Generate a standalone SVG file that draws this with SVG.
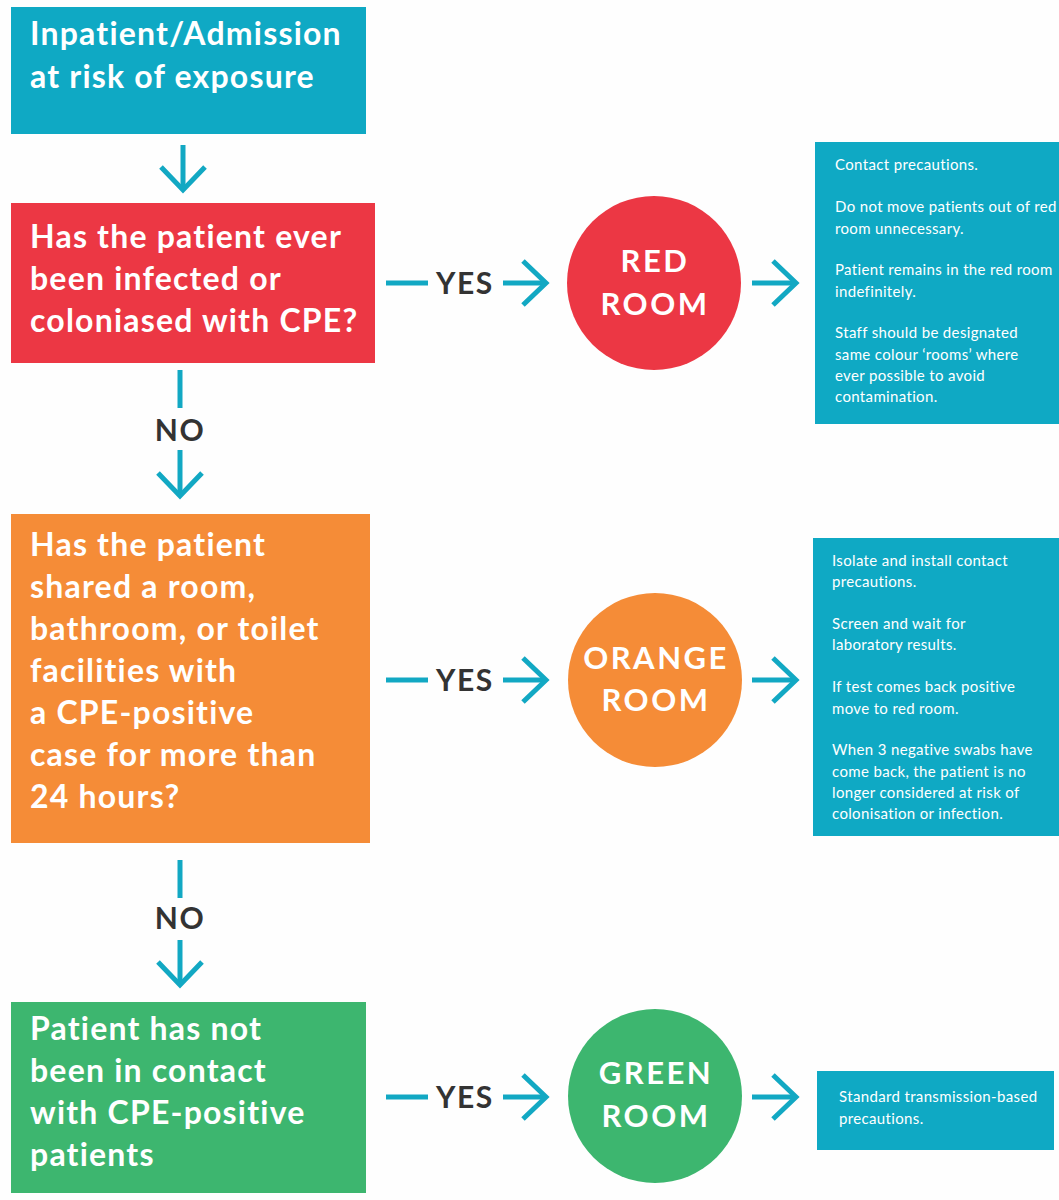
<svg xmlns="http://www.w3.org/2000/svg" width="1059" height="1200" viewBox="0 0 1059 1200">
<style>
.bg{fill:#fefefe}
.main{font-family:Lato,"Noto Sans",sans-serif;font-weight:700;font-size:32px;letter-spacing:1.2px;fill:#ffffff}
.room{font-family:Lato,"Noto Sans",sans-serif;font-weight:700;font-size:31px;fill:#ffffff;text-anchor:middle;letter-spacing:2.5px}
.lbl{font-family:Lato,"Noto Sans",sans-serif;font-weight:700;font-size:30px;letter-spacing:1.5px;fill:#333333}
.info{font-family:Lato,"Noto Sans",sans-serif;font-weight:400;font-size:15px;letter-spacing:0.35px;fill:#ffffff}
.con{stroke:#12a8c3;stroke-width:5;fill:none}
.teal{fill:#0fa9c4}
.red{fill:#ec3744}
.orange{fill:#f58c37}
.green{fill:#3db66f}
</style>
<defs>
<marker id="chev" markerUnits="userSpaceOnUse" markerWidth="34" markerHeight="54" viewBox="-28 -27 34 54" refX="0" refY="0" orient="auto">
<path d="M-23,-22 L0,0 L-23,22" stroke="#12a8c3" stroke-width="5" fill="none"/>
</marker>
</defs>
<rect class="bg" x="0" y="0" width="1059" height="1200"/>

<g id="start">
<rect class="teal" x="11" y="7" width="355" height="127"/>
<text class="main" x="30" y="45">Inpatient/Admission</text>
<text class="main" x="30" y="88">at risk of exposure</text>
</g>

<g id="q1">
<rect class="red" x="11" y="203" width="364" height="160"/>
<text class="main" x="30" y="248">Has the patient ever</text>
<text class="main" x="30" y="290">been infected or</text>
<text class="main" x="30" y="332">coloniased with CPE?</text>
</g>

<g id="red-room">
<circle class="red" cx="654" cy="283" r="87"/>
<text class="room" x="655" y="272">RED</text>
<text class="room" x="655" y="315">ROOM</text>
</g>

<g id="red-info">
<rect class="teal" x="815" y="142" width="244" height="282"/>
<text class="info" x="835" y="170">Contact precautions.</text>
<text class="info" x="835" y="212">Do not move patients out of red</text>
<text class="info" x="835" y="234">room unnecessary.</text>
<text class="info" x="835" y="275">Patient remains in the red room</text>
<text class="info" x="835" y="297">indefinitely.</text>
<text class="info" x="835" y="338">Staff should be designated</text>
<text class="info" x="835" y="360">same colour ‘rooms’ where</text>
<text class="info" x="835" y="381">ever possible to avoid</text>
<text class="info" x="835" y="402">contamination.</text>
</g>

<g id="q2">
<rect class="orange" x="11" y="514" width="359" height="329"/>
<text class="main" x="30" y="556">Has the patient</text>
<text class="main" x="30" y="598">shared a room,</text>
<text class="main" x="30" y="640">bathroom, or toilet</text>
<text class="main" x="30" y="682">facilities with</text>
<text class="main" x="30" y="724">a CPE-positive</text>
<text class="main" x="30" y="766">case for more than</text>
<text class="main" x="30" y="808">24 hours?</text>
</g>

<g id="orange-room">
<circle class="orange" cx="655" cy="680" r="87"/>
<text class="room" x="656" y="669">ORANGE</text>
<text class="room" x="656" y="711">ROOM</text>
</g>

<g id="orange-info">
<rect class="teal" x="813" y="538" width="246" height="298"/>
<text class="info" x="832" y="566">Isolate and install contact</text>
<text class="info" x="832" y="587">precautions.</text>
<text class="info" x="832" y="629">Screen and wait for</text>
<text class="info" x="832" y="650">laboratory results.</text>
<text class="info" x="832" y="692">If test comes back positive</text>
<text class="info" x="832" y="714">move to red room.</text>
<text class="info" x="832" y="755">When 3 negative swabs have</text>
<text class="info" x="832" y="777">come back, the patient is no</text>
<text class="info" x="832" y="798">longer considered at risk of</text>
<text class="info" x="832" y="819">colonisation or infection.</text>
</g>

<g id="q3">
<rect class="green" x="11" y="1002" width="355" height="191"/>
<text class="main" x="30" y="1040">Patient has not</text>
<text class="main" x="30" y="1082">been in contact</text>
<text class="main" x="30" y="1124">with CPE-positive</text>
<text class="main" x="30" y="1166">patients</text>
</g>

<g id="green-room">
<circle class="green" cx="655" cy="1096" r="87"/>
<text class="room" x="656" y="1084">GREEN</text>
<text class="room" x="656" y="1127">ROOM</text>
</g>

<g id="green-info">
<rect class="teal" x="817" y="1071" width="237" height="79"/>
<text class="info" x="839" y="1102">Standard transmission-based</text>
<text class="info" x="839" y="1124">precautions.</text>
</g>

<g id="connectors">
<path class="con" d="M183,145 V190" marker-end="url(#chev)"/>
<path class="con" d="M386,283 H428"/>
<text class="lbl" x="436" y="294">YES</text>
<path class="con" d="M503,283 H546" marker-end="url(#chev)"/>
<path class="con" d="M752,283 H796" marker-end="url(#chev)"/>
<path class="con" d="M180,370 V408"/>
<text class="lbl" x="180" y="441" text-anchor="middle">NO</text>
<path class="con" d="M180,450 V496" marker-end="url(#chev)"/>
<path class="con" d="M386,680 H428"/>
<text class="lbl" x="436" y="691">YES</text>
<path class="con" d="M503,680 H546" marker-end="url(#chev)"/>
<path class="con" d="M752,680 H796" marker-end="url(#chev)"/>
<path class="con" d="M180,860 V898"/>
<text class="lbl" x="180" y="929" text-anchor="middle">NO</text>
<path class="con" d="M180,940 V985" marker-end="url(#chev)"/>
<path class="con" d="M386,1097 H428"/>
<text class="lbl" x="436" y="1108">YES</text>
<path class="con" d="M503,1097 H546" marker-end="url(#chev)"/>
<path class="con" d="M752,1097 H796" marker-end="url(#chev)"/>
</g>
</svg>
